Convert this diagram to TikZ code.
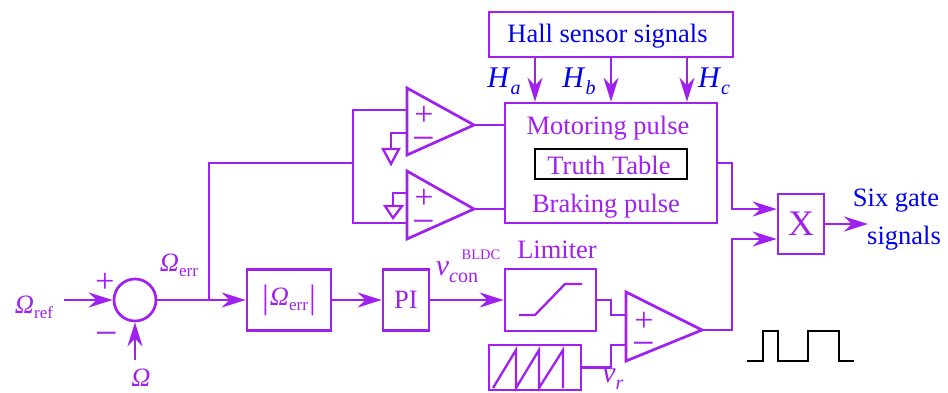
\documentclass[tikz,border=0pt]{standalone}
\usepackage{fontspec}
\setmainfont{Liberation Serif}
\usetikzlibrary{arrows.meta}
\definecolor{wirec}{HTML}{A020F0}
\definecolor{sigc}{HTML}{0000F0}
\newcommand{\subtxt}[1]{\raisebox{-5pt}{\fontsize{17}{17}\selectfont #1}}
\newcommand{\subbig}[1]{\raisebox{-7pt}{\fontsize{20}{20}\selectfont #1}}
\newcommand{\barsign}{\raisebox{-3pt}{\fontsize{34}{34}\selectfont|}}
\begin{document}
\begin{tikzpicture}[x=1pt, y=-1pt, line join=miter, line width=2.7pt, draw=wirec, text=wirec, font=\fontsize{26.5}{28}\selectfont, >={Stealth[length=24pt,width=15pt]}]
	\tikzset{blk/.style={draw, rectangle, inner sep=0pt},
		lbl/.style={inner sep=0pt},
		sig/.style={inner sep=0pt, text=sigc},
		sgn/.style={inner sep=0pt, text height=8pt, text depth=0pt, font=\fontsize{34}{34}\selectfont},
		mns/.style={inner sep=0pt, text height=4pt, text depth=0pt, font=\fontsize{40}{40}\selectfont}}
	\useasboundingbox (0,0) rectangle (948,392);
	% blocks
	\node[blk, minimum width=244pt, minimum height=45pt] (hall) at (611,34.5) {};
	\node[sig] (halltxt) at (607.5,36) {Hall sensor signals};
	\node[blk, minimum width=212pt, minimum height=120pt] (logic) at (611,163) {};
	\node[lbl] (motor) at (608,128) {Motoring pulse};
	\node[lbl] (brake) at (606,206) {Braking pulse};
	\node[blk, draw=black, minimum width=152pt, minimum height=30pt] (truth) at (611,164) {};
	\node[lbl] (truthtxt) at (609,165.5) {Truth Table};
	\node[blk, minimum width=46pt, minimum height=60pt, font=\fontsize{36}{36}\selectfont] (mult) at (801,224) {X};
	\node[blk, minimum width=84pt, minimum height=61pt] (absb) at (289,300) {\barsign\hspace{1pt}\textit{Ω}\subtxt{err}\hspace{1pt}\barsign};
	\node[blk, minimum width=46pt, minimum height=61pt] (pi) at (406,300) {PI};
	\node[blk, minimum width=91pt, minimum height=62pt] (limit) at (550.5,300) {};
	\node[blk, minimum width=92pt, minimum height=45pt] (saw) at (535,367.5) {};
	\node[draw, circle, inner sep=0pt, minimum size=42pt] (sum) at (135,300) {};
	% amplifiers
	\coordinate (ampa) at (474,125);
	\coordinate (ampb) at (474,209);
	\coordinate (ampc) at (702,330);
	\draw (407,88)--(ampa)--(407,155)--cycle;
	\draw (407,171)--(ampb)--(407,239)--cycle;
	\draw (626,292)--(ampc)--(626,361)--cycle;
	% signs
	\node[sgn] (ampaplus) at (424,121) {+};
	\node[mns] (ampaminus) at (424,149) {−};
	\node[sgn] (ampbplus) at (424,204) {+};
	\node[mns] (ampbminus) at (424,232) {−};
	\node[sgn] (ampcplus) at (644,327) {+};
	\node[mns] (ampcminus) at (644,354) {−};
	\node[sgn] (sumplus) at (105,288) {+};
	\node[mns] (summinus) at (107,344) {−};
	% hall signals
	\foreach \i/\xp in {a/535,b/611,c/687}
		\draw[->] (hall.south -| \xp,0)--(logic.north -| \xp,0);
	\node[sig, font=\fontsize{30}{30}\selectfont] (ha) at (504,81) {\textit{H}\subbig{\textit{a}}};
	\node[sig, font=\fontsize{30}{30}\selectfont] (hb) at (579,81) {\textit{H}\subbig{\textit{b}}};
	\node[sig, font=\fontsize{30}{30}\selectfont] (hc) at (714,81) {\textit{H}\subbig{\textit{c}}};
	% comparator inputs
	\coordinate (bus) at (353,163);
	\coordinate (branch) at (209,300);
	\draw (407,110)-|(353,223)--(407,223);
	\draw (bus)--(branch |- bus)--(branch);
	\draw (407,133)-|(391,149);
	\draw[line width=2.3pt] (383,149)--(399,149)--(391,164)--cycle;
	\draw (407,193)-|(393,206);
	\draw[line width=2.3pt] (385,206)--(402,206)--(393,218)--cycle;
	\draw (ampa)--(logic.west |- ampa);
	\draw (ampb)--(logic.west |- ampb);
	% outputs
	\coordinate (outa) at (732,209);
	\coordinate (outb) at (732,239);
	\draw[->] (logic.east)-|(outa)--(mult.west |- outa);
	\draw[->] (ampc)-|(outb)--(mult.west |- outb);
	\coordinate (gate) at (868,224);
	\draw[->] (mult.east)--(gate);
	\node[sig] (six) at (896,201) {Six gate};
	\node[sig] (sigs) at (904,238) {signals};
	% forward path
	\coordinate (ref) at (64,300);
	\coordinate (fb) at (135,360);
	\draw[->] (ref)--(sum.west);
	\draw[->] (fb)--(sum.south);
	\draw[->] (sum.east)--(absb.west);
	\draw[->] (absb.east)--(pi.west);
	\draw[->] (pi.east)--(limit.west);
	\node[lbl] (refl) at (34,307) {\textit{Ω}\subtxt{ref}};
	\node[lbl] (fbl) at (141,378) {\textit{Ω}};
	\node[lbl] (errl) at (179,265) {\textit{Ω}\subtxt{err}};
	\node[lbl] (vcon) at (457,272) {\fontsize{30}{30}\selectfont\textit{v}\subbig{\textit{c}on}};
	\node[lbl] (bldc) at (481,255) {\fontsize{14.5}{15}\selectfont BLDC};
	\node[lbl] (liml) at (557,250) {Limiter};
	\node[lbl] (vr) at (613,379) {\fontsize{30}{30}\selectfont\textit{v}\subbig{\textit{r}}};
	% limiter and carrier
	\draw[line width=2.3pt] (519,315)--(535,315)--(565,284)--(582,284);
	\draw[line width=2.3pt] (493,388)--(516,350)--(516,388)--(539,350)--(539,388)--(563,350)--(563,388);
	\draw (limit.east)-|(611,315)--(626,315);
	\draw (saw.east)-|(611,345)--(626,345);
	% pulse train
	\draw[draw=black] (747,361)-|(763,331)-|(778,361)-|(808,331)-|(839,361)--(854,361);
\end{tikzpicture}
\end{document}
